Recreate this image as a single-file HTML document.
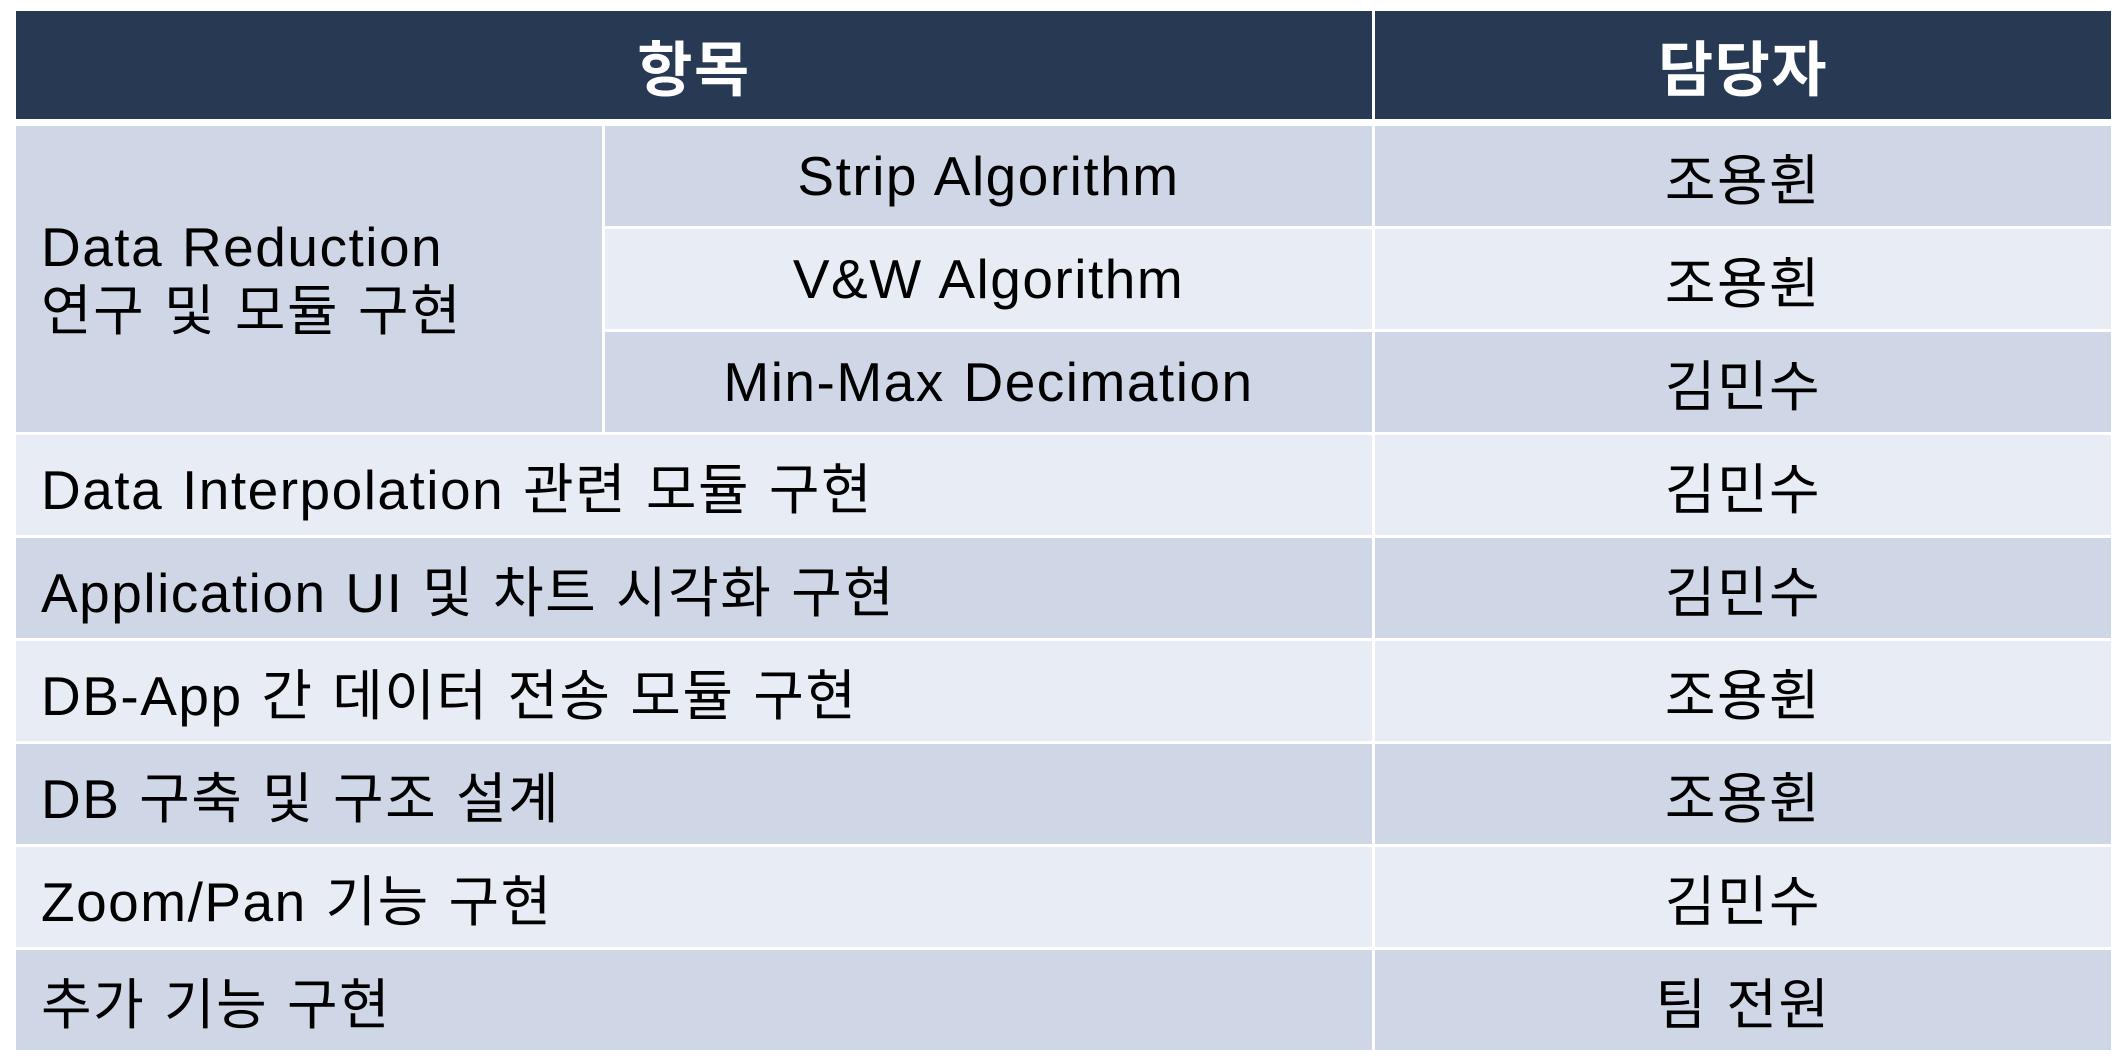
<!DOCTYPE html>
<html><head><meta charset="utf-8"><style>
body{margin:0;width:2126px;height:1062px;background:#fff;position:relative;overflow:hidden;font-family:"Liberation Sans","Noto Sans CJK KR",sans-serif;}
.c{position:absolute;display:flex;align-items:center;box-sizing:border-box;font-size:55px;letter-spacing:1.5px;word-spacing:2px;color:#000;white-space:nowrap;}
.h{background:#283a53;color:#fff;font-weight:bold;font-size:60px;justify-content:center;}
.d{background:#cfd7e6}.l{background:#e8ecf4}
.ctr{justify-content:center}.lft{padding-left:25px}
</style></head><body>
<div class="c h" style="left:16px;top:11px;width:1356px;height:108px">항목</div>
<div class="c h" style="left:1375px;top:11px;width:736px;height:108px">담당자</div>
<div class="c d lft" style="left:16px;top:126px;width:586px;height:306px;line-height:1.17"><div>Data Reduction<br>연구 및 모듈 구현</div></div>
<script>
var rows=[
["Strip Algorithm","조용휜",1],["V&W Algorithm","조용휜",1],["Min-Max Decimation","김민수",1],
["Data Interpolation 관련 모듈 구현","김민수",0],["Application UI 및 차트 시각화 구현","김민수",0],
["DB-App 간 데이터 전송 모듈 구현","조용휜",0],["DB 구축 및 구조 설계","조용휜",0],
["Zoom/Pan 기능 구현","김민수",0],["추가 기능 구현","팀 전원",0]];
rows.forEach(function(r,i){
  var top=126+i*103, cls=(i%2==0)?'d':'l';
  var a=document.createElement('div');
  a.className='c '+cls+(r[2]?' ctr':' lft');
  a.style.cssText='top:'+top+'px;height:100px;'+(r[2]?'left:605px;width:767px;':'left:16px;width:1356px;');
  a.textContent=r[0];
  
  
  document.body.appendChild(a);
  var b=document.createElement('div');
  b.className='c ctr '+cls;
  b.style.cssText='top:'+top+'px;height:100px;left:1375px;width:736px;';
  b.textContent=r[1];
  
  
  document.body.appendChild(b);
});
</script>
</body></html>
